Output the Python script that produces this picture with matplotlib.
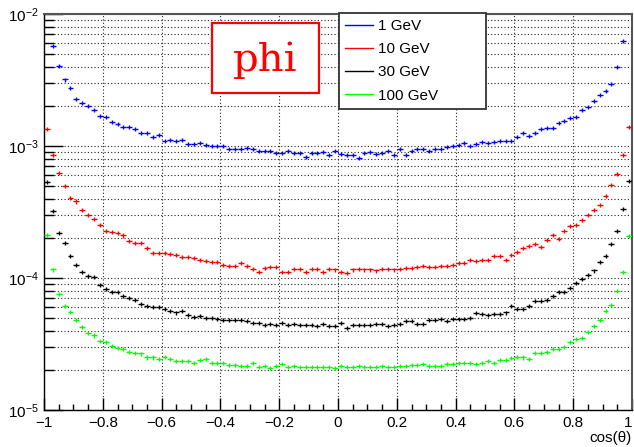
import matplotlib
matplotlib.use("Agg")
import matplotlib.pyplot as plt
import numpy as np
from matplotlib.ticker import LogLocator, MultipleLocator, NullFormatter
from matplotlib.lines import Line2D
from matplotlib.patches import Rectangle

plt.rcParams['font.family'] = ['Liberation Sans', 'DejaVu Sans']
plt.rcParams['mathtext.fontset'] = 'custom'
plt.rcParams['mathtext.rm'] = 'Liberation Sans'
plt.rcParams['mathtext.it'] = 'Liberation Sans:italic'

# -------------------------------
# Data: 100 bins in cos(theta)
# -------------------------------
n_bins = 100
x_lo, x_hi = -1.0, 1.0
rel_err = 0.035

labels = ['1 GeV', '10 GeV', '30 GeV', '100 GeV']
colors = ['#0000ff', '#ff0000', '#000000', '#00ff00']

e1 = [1.3e-2, 5.74e-3, 4.06e-3, 3.19e-3, 2.74e-3, 2.29e-3, 2.12e-3, 2.00e-3, 1.88e-3, 1.69e-3,
      1.67e-3, 1.53e-3, 1.48e-3, 1.39e-3, 1.39e-3, 1.34e-3, 1.25e-3, 1.26e-3, 1.17e-3, 1.21e-3,
      1.09e-3, 1.11e-3, 1.09e-3, 1.11e-3, 1.03e-3, 1.03e-3, 1.06e-3, 1.01e-3, 1.00e-3, 1.00e-3,
      1.00e-3, 0.943e-3, 0.943e-3, 0.954e-3, 0.966e-3, 0.943e-3, 0.916e-3, 0.916e-3, 0.916e-3, 0.890e-3,
      0.880e-3, 0.911e-3, 0.890e-3, 0.880e-3, 0.830e-3, 0.890e-3, 0.890e-3, 0.900e-3, 0.849e-3, 0.916e-3,
      0.865e-3, 0.849e-3, 0.849e-3, 0.815e-3, 0.890e-3, 0.900e-3, 0.865e-3, 0.880e-3, 0.916e-3, 0.859e-3,
      0.943e-3, 0.849e-3, 0.916e-3, 0.943e-3, 0.943e-3, 0.916e-3, 0.943e-3, 0.954e-3, 0.988e-3, 1.00e-3,
      1.01e-3, 1.06e-3, 1.00e-3, 1.03e-3, 1.07e-3, 1.06e-3, 1.08e-3, 1.10e-3, 1.09e-3, 1.10e-3,
      1.18e-3, 1.25e-3, 1.19e-3, 1.26e-3, 1.34e-3, 1.36e-3, 1.36e-3, 1.49e-3, 1.55e-3, 1.64e-3,
      1.67e-3, 1.87e-3, 1.99e-3, 2.20e-3, 2.43e-3, 2.62e-3, 2.96e-3, 3.98e-3, 6.27e-3, 1.3e-2]

e10 = [1.34e-3, 8.5e-4, 6.27e-4, 4.97e-4, 4.01e-4, 3.80e-4, 3.30e-4, 2.99e-4, 2.82e-4, 2.54e-4,
       2.29e-4, 2.24e-4, 2.20e-4, 2.10e-4, 1.92e-4, 1.85e-4, 1.85e-4, 1.70e-4, 1.55e-4, 1.55e-4,
       1.55e-4, 1.52e-4, 1.49e-4, 1.44e-4, 1.44e-4, 1.42e-4, 1.38e-4, 1.34e-4, 1.32e-4, 1.32e-4,
       1.26e-4, 1.24e-4, 1.23e-4, 1.29e-4, 1.23e-4, 1.18e-4, 1.11e-4, 1.19e-4, 1.21e-4, 1.21e-4,
       1.11e-4, 1.12e-4, 1.17e-4, 1.17e-4, 1.11e-4, 1.17e-4, 1.17e-4, 1.12e-4, 1.17e-4, 1.16e-4,
       1.12e-4, 1.10e-4, 1.16e-4, 1.17e-4, 1.16e-4, 1.16e-4, 1.14e-4, 1.17e-4, 1.17e-4, 1.16e-4,
       1.17e-4, 1.19e-4, 1.19e-4, 1.21e-4, 1.24e-4, 1.21e-4, 1.21e-4, 1.24e-4, 1.23e-4, 1.26e-4,
       1.29e-4, 1.29e-4, 1.36e-4, 1.34e-4, 1.37e-4, 1.36e-4, 1.48e-4, 1.48e-4, 1.38e-4, 1.50e-4,
       1.57e-4, 1.69e-4, 1.76e-4, 1.81e-4, 1.72e-4, 1.95e-4, 2.13e-4, 1.99e-4, 2.29e-4, 2.47e-4,
       2.54e-4, 2.74e-4, 2.99e-4, 3.30e-4, 3.60e-4, 4.17e-4, 5.06e-4, 6.17e-4, 8.55e-4, 1.39e-3]

e30 = [5.33e-4, 3.23e-4, 2.20e-4, 1.85e-4, 1.46e-4, 1.26e-4, 1.11e-4, 1.03e-4, 1.01e-4, 8.9e-5,
       8.24e-5, 7.78e-5, 7.78e-5, 7.34e-5, 7.01e-5, 6.85e-5, 6.38e-5, 6.17e-5, 6.03e-5, 5.99e-5,
       5.85e-5, 5.65e-5, 5.48e-5, 5.58e-5, 5.24e-5, 5.06e-5, 5.12e-5, 4.97e-5, 4.97e-5, 4.88e-5,
       4.83e-5, 4.83e-5, 4.77e-5, 4.83e-5, 4.69e-5, 4.55e-5, 4.55e-5, 4.42e-5, 4.50e-5, 4.42e-5,
       4.55e-5, 4.42e-5, 4.50e-5, 4.42e-5, 4.42e-5, 4.42e-5, 4.35e-5, 4.50e-5, 4.35e-5, 4.35e-5,
       4.55e-5, 4.17e-5, 4.42e-5, 4.42e-5, 4.42e-5, 4.42e-5, 4.50e-5, 4.50e-5, 4.30e-5, 4.42e-5,
       4.50e-5, 4.69e-5, 4.69e-5, 4.50e-5, 4.50e-5, 4.77e-5, 4.83e-5, 4.88e-5, 4.69e-5, 4.88e-5,
       4.88e-5, 4.88e-5, 4.97e-5, 5.45e-5, 5.30e-5, 5.27e-5, 5.33e-5, 5.33e-5, 5.48e-5, 6.10e-5,
       5.82e-5, 5.85e-5, 6.17e-5, 6.65e-5, 6.65e-5, 6.85e-5, 7.26e-5, 7.83e-5, 7.83e-5, 8.40e-5,
       9.16e-5, 9.82e-5, 1.05e-4, 1.14e-4, 1.32e-4, 1.46e-4, 1.81e-4, 2.26e-4, 3.34e-4, 5.42e-4]

e100 = [2.11e-4, 1.16e-4, 7.56e-5, 6.17e-5, 5.52e-5, 4.77e-5, 4.24e-5, 3.82e-5, 3.67e-5, 3.34e-5,
        3.27e-5, 3.06e-5, 2.94e-5, 2.89e-5, 2.77e-5, 2.72e-5, 2.68e-5, 2.50e-5, 2.50e-5, 2.45e-5,
        2.54e-5, 2.45e-5, 2.37e-5, 2.37e-5, 2.37e-5, 2.26e-5, 2.40e-5, 2.43e-5, 2.29e-5, 2.29e-5,
        2.29e-5, 2.20e-5, 2.20e-5, 2.16e-5, 2.16e-5, 2.29e-5, 2.13e-5, 2.16e-5, 2.07e-5, 2.16e-5,
        2.23e-5, 2.11e-5, 2.16e-5, 2.11e-5, 2.11e-5, 2.11e-5, 2.11e-5, 2.11e-5, 2.11e-5, 2.07e-5,
        2.16e-5, 2.11e-5, 2.13e-5, 2.16e-5, 2.11e-5, 2.13e-5, 2.11e-5, 2.16e-5, 2.11e-5, 2.13e-5,
        2.16e-5, 2.16e-5, 2.20e-5, 2.20e-5, 2.23e-5, 2.16e-5, 2.16e-5, 2.16e-5, 2.23e-5, 2.23e-5,
        2.29e-5, 2.29e-5, 2.26e-5, 2.23e-5, 2.28e-5, 2.37e-5, 2.29e-5, 2.40e-5, 2.40e-5, 2.47e-5,
        2.54e-5, 2.50e-5, 2.44e-5, 2.69e-5, 2.69e-5, 2.74e-5, 2.89e-5, 2.89e-5, 2.99e-5, 3.25e-5,
        3.44e-5, 3.54e-5, 3.87e-5, 4.35e-5, 4.77e-5, 5.58e-5, 6.20e-5, 8.01e-5, 1.12e-4, 2.07e-4]

series = [e1, e10, e30, e100]

# -------------------------------
# Plot
# -------------------------------
edges = np.linspace(x_lo, x_hi, n_bins + 1)
centers = 0.5 * (edges[:-1] + edges[1:])
half_w = 0.5 * (edges[1] - edges[0])

fig = plt.figure(figsize=(6.34, 4.47), dpi=100)
ax = fig.add_axes([44 / 634, 1 - 410 / 447, 588 / 634, 396 / 447])

for vals, c in zip(series, colors):
    v = np.array(vals)
    ax.errorbar(centers, v, xerr=half_w, yerr=rel_err * v, fmt='none',
                ecolor=c, elinewidth=1.0, capsize=0, zorder=3)

ax.set_yscale('log')
ax.set_xlim(x_lo, x_hi)
ax.set_ylim(1e-5, 1e-2)

ax.xaxis.set_major_locator(MultipleLocator(0.2))
ax.xaxis.set_minor_locator(MultipleLocator(0.05))
ax.yaxis.set_major_locator(LogLocator(base=10))
ax.yaxis.set_minor_locator(LogLocator(base=10, subs=np.arange(2, 10)))
ax.yaxis.set_minor_formatter(NullFormatter())
ax.xaxis.set_major_formatter(plt.FuncFormatter(
    lambda v, p: ("%g" % round(v, 2)).replace('-', '\u2212')))

ax.tick_params(axis='both', which='both', direction='in', top=False, right=False,
               labelsize=11, color='black')
ax.tick_params(axis='y', which='major', length=14, width=1.0, pad=4)
ax.tick_params(axis='y', which='minor', length=7, width=1.0)
ax.tick_params(axis='x', which='major', length=9, width=1.0, pad=4)
ax.tick_params(axis='x', which='minor', length=4.5, width=1.0)

grid_style = dict(color='#222222', linestyle=(0, (1, 2)), linewidth=0.8)
ax.grid(True, which='major', axis='both', **grid_style)
ax.grid(True, which='minor', axis='y', **grid_style)
ax.set_axisbelow(True)

for s in ['top', 'right']:
    ax.spines[s].set_color('#555555')
    ax.spines[s].set_linewidth(1.5)
for s in ['left', 'bottom']:
    ax.spines[s].set_color('black')
    ax.spines[s].set_linewidth(1.0)

ax.set_xlabel('cos(\u03b8)', fontsize=11, loc='right', labelpad=1)

# keep the last x label ("1") inside the canvas
fig.canvas.draw()
xlabels = ax.get_xticklabels()
for t in xlabels:
    if t.get_text() == '1':
        t.set_horizontalalignment('right')

# legend
handles = [Line2D([], [], color=c, lw=1.0) for c in colors]
leg = ax.legend(handles, labels, loc='upper left',
                bbox_to_anchor=(295 / 588, 0.75, 147 / 588, 0.2525), mode='expand',
                borderaxespad=0, fancybox=False, framealpha=1, edgecolor='#333333',
                fontsize=11, handlelength=1.8, handletextpad=0.35,
                labelspacing=0.6, borderpad=0.4)
leg.get_frame().set_linewidth(1.3)
leg.set_zorder(10)

# "phi" label box
ax.add_patch(Rectangle(((212 - 44) / 588, (410 - 93) / 396), 107 / 588, 70 / 396,
                       transform=ax.transAxes, facecolor='white', edgecolor='#ff0000',
                       linewidth=1.6, zorder=9))
ax.text((265.5 - 44) / 588, (410 - 60) / 396, 'phi', transform=ax.transAxes,
        ha='center', va='center', color='#ff0000', fontsize=29,
        family='DejaVu Serif', zorder=10)

plt.savefig('out.png', dpi=100)
plt.close()
